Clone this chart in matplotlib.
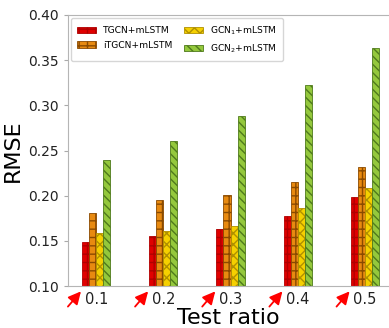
import numpy as np
import matplotlib
matplotlib.use('Agg')
import matplotlib.pyplot as plt

# test ratios and RMSE for each model
ratios = ['0.1', '0.2', '0.3', '0.4', '0.5']
tgcn = [0.149, 0.155, 0.163, 0.177, 0.198]
itgcn = [0.181, 0.195, 0.201, 0.215, 0.232]
gcn1 = [0.159, 0.161, 0.166, 0.186, 0.208]
gcn2 = [0.239, 0.261, 0.288, 0.323, 0.363]

models = ['TGCN+mLSTM', 'iTGCN+mLSTM', 'GCN$_1$+mLSTM', 'GCN$_2$+mLSTM']
series = [tgcn, itgcn, gcn1, gcn2]
faces = ['#e00000', '#e88a10', '#f5d000', '#94c83c']
edges = ['#b00000', '#8a4a00', '#b09000', '#4f7a1c']
hatches = ['++', '++', 'xxx', '\\\\\\\\']

fig = plt.figure(figsize=(3.89, 3.28), dpi=100)
ax = fig.add_axes([68 / 389, 42 / 328, 321 / 389, 271 / 328])

x = np.arange(len(ratios))
w = 0.105
for i, (vals, fc, ec, h, lab) in enumerate(zip(series, faces, edges, hatches, models)):
    ax.bar(x + (i - 1.5) * w, np.array(vals) - 0.10, w, bottom=0.10,
           color=fc, edgecolor=ec, hatch=h, linewidth=0.6, label=lab)

ax.set_xlim(-0.42, 4.36)
ax.set_ylim(0.10, 0.40)
ax.set_yticks([0.10, 0.15, 0.20, 0.25, 0.30, 0.35, 0.40])
ax.set_xticks(x)
ax.set_xticklabels(ratios)
ax.tick_params(axis='y', labelsize=10, colors='#222222', length=3, color='#aaaaaa')
ax.tick_params(axis='x', labelsize=10.5, colors='#222222', length=0, pad=4)
ax.set_xlabel('Test ratio', fontsize=16, labelpad=1)
ax.set_ylabel('RMSE', fontsize=16, labelpad=4)

for s in ['left', 'top', 'bottom']:
    ax.spines[s].set_color('#b5b5b5')
ax.spines['right'].set_visible(False)

# red arrows pointing at each tick label
for xi in x:
    ax.annotate('', xy=(xi - 0.2, -0.012), xycoords=('data', 'axes fraction'),
                xytext=(-12, -14), textcoords='offset points',
                arrowprops=dict(arrowstyle='-|>', color='red', lw=1.3,
                                mutation_scale=19),
                annotation_clip=False)

ax.legend(loc='upper left', ncol=2, fontsize=6.6, handlelength=2.1,
          handleheight=0.7, columnspacing=1.3, borderpad=0.7,
          labelspacing=0.6, handletextpad=0.7, frameon=True,
          edgecolor='#cccccc', borderaxespad=0.3)

fig.savefig('out.png', dpi=100)
